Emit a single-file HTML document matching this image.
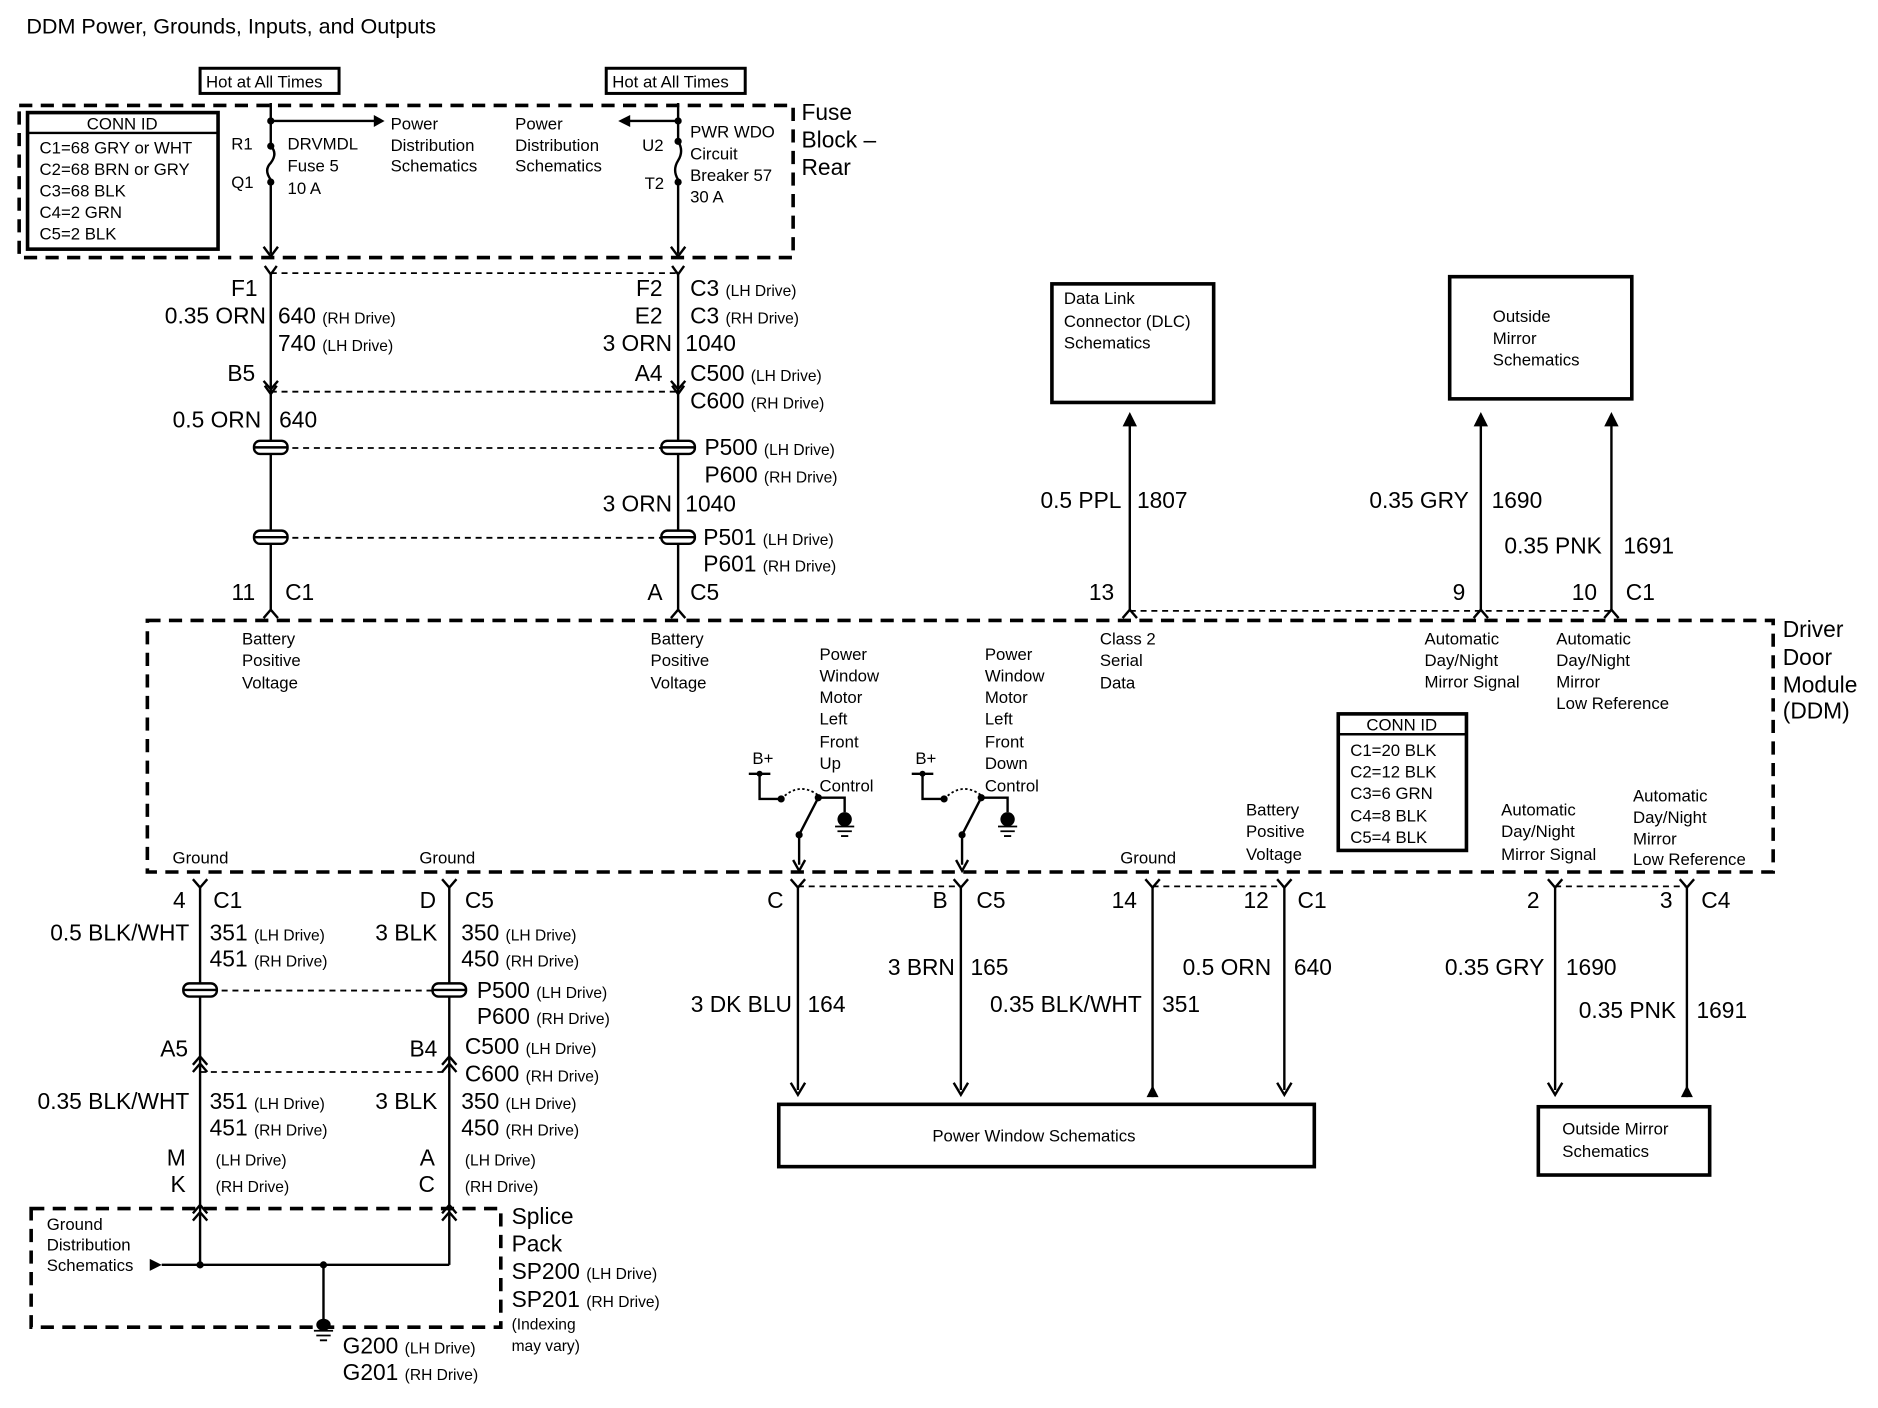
<!DOCTYPE html>
<html><head><meta charset="utf-8"><style>
html,body{margin:0;padding:0;background:#fff}
svg{display:block}
text{font-family:"Liberation Sans Narrow","Liberation Sans",sans-serif;fill:#000}
.s{font-size:14px}.m{font-size:19px}.r{text-anchor:end}.t{font-size:13px}
.w{stroke:#000;stroke-width:2;fill:none}
.d{stroke:#000;stroke-width:1.5;fill:none;stroke-dasharray:5 4}
.b{stroke:#000;stroke-width:3;fill:none;stroke-dasharray:11 7}
.bx{stroke:#000;stroke-width:3;fill:#fff}
</style></head><body>
<svg width="1878" height="1408" viewBox="0 0 1567.5 1175.5" preserveAspectRatio="none" xmlns="http://www.w3.org/2000/svg">
<text x="22" y="28" style="font-size:18px">DDM Power, Grounds, Inputs, and Outputs</text>

<rect x="167" y="57" width="116" height="21" class="bx" style="stroke-width:2.5"/><text x="172" y="73" class="s">Hot at All Times</text>
<rect x="506" y="57" width="116" height="21" class="bx" style="stroke-width:2.5"/><text x="511" y="73" class="s">Hot at All Times</text>

<rect x="16" y="88" width="646" height="127" class="b"/>
<text x="669" y="100" class="m">Fuse</text><text x="669" y="123" class="m">Block –</text><text x="669" y="146" class="m">Rear</text>
<rect x="23" y="94" width="159" height="114" class="bx"/><line x1="23" y1="111" x2="182" y2="111" class="w"/>
<text x="102" y="108" class="s" text-anchor="middle">CONN ID</text>
<text x="33" y="128" class="s">C1=68 GRY or WHT</text><text x="33" y="146" class="s">C2=68 BRN or GRY</text><text x="33" y="164" class="s">C3=68 BLK</text><text x="33" y="182" class="s">C4=2 GRN</text><text x="33" y="200" class="s">C5=2 BLK</text>

<path d="M226 86V122 M226 150V212" class="w"/>
<path d="M226 122 q6 6 0 14 q-6 6 0 14" class="w"/>
<circle cx="226" cy="101" r="3"/><circle cx="226" cy="122" r="3"/><circle cx="226" cy="152" r="3"/>
<path d="M226 101H314" class="w"/><path d="M312 96L321 101L312 106Z"/>
<path d="M220 206L226 214L232 206" class="w"/>
<text x="193" y="125" class="s">R1</text><text x="193" y="157" class="s">Q1</text>
<text x="240" y="125" class="s">DRVMDL</text><text x="240" y="143" class="s">Fuse 5</text><text x="240" y="162" class="s">10 A</text>
<text x="326" y="108" class="s">Power</text><text x="326" y="126" class="s">Distribution</text><text x="326" y="143" class="s">Schematics</text>
<path d="M566 86V118 M566 150V212" class="w"/>
<path d="M566 118 q5 8 0 16 q-5 8 0 16" class="w"/>
<circle cx="566" cy="101" r="3"/><circle cx="566" cy="118" r="3"/><circle cx="566" cy="152" r="3"/>
<path d="M566 101H524" class="w"/><path d="M526 96L516 101L526 106Z"/>
<path d="M560 206L566 214L572 206" class="w"/>
<text x="536" y="126" class="s">U2</text><text x="538" y="158" class="s">T2</text>
<text x="576" y="115" class="s">PWR WDO</text><text x="576" y="133" class="s">Circuit</text><text x="576" y="151" class="s">Breaker 57</text><text x="576" y="169" class="s">30 A</text>
<text x="430" y="108" class="s">Power</text><text x="430" y="126" class="s">Distribution</text><text x="430" y="143" class="s">Schematics</text>

<path d="M226 228V510 M566 228V510" class="w"/>
<path d="M221 222L226 229L231 222 M561 222L566 229L571 222" class="w"/>
<line x1="226" y1="228" x2="566" y2="228" class="d"/>
<path d="M220 318L226 325L232 318 M560 318L566 325L572 318" class="w"/>
<path d="M221 322L226 329L231 322 M561 322L566 329L571 322" class="w"/>
<line x1="226" y1="327" x2="566" y2="327" class="d"/>
<text x="215" y="247" class="m r">F1</text><text x="222" y="270" class="m r">0.35 ORN</text>
<text x="232" y="270" class="m">640 <tspan class="t">(RH Drive)</tspan></text><text x="232" y="293" class="m">740 <tspan class="t">(LH Drive)</tspan></text>
<text x="213" y="318" class="m r">B5</text>
<text x="553" y="247" class="m r">F2</text><text x="576" y="247" class="m">C3 <tspan class="t">(LH Drive)</tspan></text>
<text x="553" y="270" class="m r">E2</text><text x="576" y="270" class="m">C3 <tspan class="t">(RH Drive)</tspan></text>
<text x="561" y="293" class="m r">3 ORN</text><text x="572" y="293" class="m">1040</text>
<text x="553" y="318" class="m r">A4</text><text x="576" y="318" class="m">C500 <tspan class="t">(LH Drive)</tspan></text>
<text x="576" y="341" class="m">C600 <tspan class="t">(RH Drive)</tspan></text>
<text x="218" y="357" class="m r">0.5 ORN</text><text x="233" y="357" class="m">640</text>
<line x1="226" y1="374" x2="566" y2="374" class="d"/>
<line x1="226" y1="449" x2="566" y2="449" class="d"/>
<g class="w" style="fill:#fff">
<rect x="212" y="368" width="28" height="11" rx="5"/><rect x="552" y="368" width="28" height="11" rx="5"/>
<rect x="212" y="443" width="28" height="11" rx="5"/><rect x="552" y="443" width="28" height="11" rx="5"/>
</g>
<path d="M212 373.5H240 M552 373.5H580 M212 448.5H240 M552 448.5H580" class="w"/>
<text x="588" y="380" class="m">P500 <tspan class="t">(LH Drive)</tspan></text><text x="588" y="403" class="m">P600 <tspan class="t">(RH Drive)</tspan></text>
<text x="561" y="427" class="m r">3 ORN</text><text x="572" y="427" class="m">1040</text>
<text x="587" y="455" class="m">P501 <tspan class="t">(LH Drive)</tspan></text><text x="587" y="477" class="m">P601 <tspan class="t">(RH Drive)</tspan></text>
<text x="213" y="501" class="m r">11</text><text x="238" y="501" class="m">C1</text>
<text x="553" y="501" class="m r">A</text><text x="576" y="501" class="m">C5</text>
<path d="M220 516L226 509L232 516 M560 516L566 509L572 516" class="w"/>

<rect x="123" y="518" width="1357" height="210" class="b"/>
<text x="1488" y="532" class="m">Driver</text><text x="1488" y="555" class="m">Door</text><text x="1488" y="578" class="m">Module</text><text x="1488" y="600" class="m">(DDM)</text>
<text x="202" y="538" class="s">Battery</text><text x="202" y="556" class="s">Positive</text><text x="202" y="575" class="s">Voltage</text>
<text x="543" y="538" class="s">Battery</text><text x="543" y="556" class="s">Positive</text><text x="543" y="575" class="s">Voltage</text>
<g class="s"><text x="684" y="551">Power</text><text x="684" y="569">Window</text><text x="684" y="587">Motor</text><text x="684" y="605">Left</text><text x="684" y="624">Front</text><text x="684" y="642">Up</text><text x="684" y="661">Control</text>
<text x="822" y="551">Power</text><text x="822" y="569">Window</text><text x="822" y="587">Motor</text><text x="822" y="605">Left</text><text x="822" y="624">Front</text><text x="822" y="642">Down</text><text x="822" y="661">Control</text>
<text x="918" y="538">Class 2</text><text x="918" y="556">Serial</text><text x="918" y="575">Data</text>
<text x="1189" y="538">Automatic</text><text x="1189" y="556">Day/Night</text><text x="1189" y="574">Mirror Signal</text>
<text x="1299" y="538">Automatic</text><text x="1299" y="556">Day/Night</text><text x="1299" y="574">Mirror</text><text x="1299" y="592">Low Reference</text>
<text x="1040" y="681">Battery</text><text x="1040" y="699">Positive</text><text x="1040" y="718">Voltage</text>
<text x="1253" y="681">Automatic</text><text x="1253" y="699">Day/Night</text><text x="1253" y="718">Mirror Signal</text>
<text x="1363" y="669">Automatic</text><text x="1363" y="687">Day/Night</text><text x="1363" y="705">Mirror</text><text x="1363" y="722">Low Reference</text>
<text x="144" y="721">Ground</text><text x="350" y="721">Ground</text><text x="935" y="721">Ground</text></g>
<rect x="1117" y="596" width="107" height="114" class="bx"/><line x1="1117" y1="613" x2="1224" y2="613" class="w"/>
<text x="1170" y="610" class="s" text-anchor="middle">CONN ID</text>
<g class="s"><text x="1127" y="631">C1=20 BLK</text><text x="1127" y="649">C2=12 BLK</text><text x="1127" y="667">C3=6 GRN</text><text x="1127" y="686">C4=8 BLK</text><text x="1127" y="704">C5=4 BLK</text></g>

<g id="sw">
<text x="628" y="638" class="s">B+</text>
<path d="M625 646H643 M634 646V667H652" class="w"/>
<circle cx="634" cy="646" r="2.5"/><circle cx="652" cy="667" r="3"/><circle cx="683" cy="666" r="3"/><circle cx="667" cy="697" r="3"/>
<path d="M652 667 Q667 652 683 664" class="w" style="stroke-dasharray:2 2;stroke-width:1.5"/>
<path d="M683 666L667 697 M683 666H705V678 M667 697V722" class="w"/>
<ellipse cx="705" cy="684" rx="6" ry="6"/><path d="M697 690H713 M699 694H711 M702 698H708" class="w" style="stroke-width:1.5"/>
<path d="M662 718L667 727L672 718" class="w"/>
</g>
<use href="#sw" x="136"/>

<path d="M943 510V352 M1236 510V352 M1345 510V352" class="w"/>
<path d="M937 356L943 344L949 356Z M1230 356L1236 344L1242 356Z M1339 356L1345 344L1351 356Z"/>
<path d="M937 516L943 509L949 516 M1230 516L1236 509L1242 516 M1339 516L1345 509L1351 516" class="w"/>
<line x1="943" y1="510" x2="1345" y2="510" class="d"/>
<text x="930" y="501" class="m r">13</text><text x="1223" y="501" class="m r">9</text><text x="1333" y="501" class="m r">10</text><text x="1357" y="501" class="m">C1</text>
<text x="936" y="424" class="m r">0.5 PPL</text><text x="949" y="424" class="m">1807</text>
<text x="1226" y="424" class="m r">0.35 GRY</text><text x="1245" y="424" class="m">1690</text>
<text x="1337" y="462" class="m r">0.35 PNK</text><text x="1355" y="462" class="m">1691</text>
<rect x="878" y="237" width="135" height="99" class="bx"/>
<text x="888" y="254" class="s">Data Link</text><text x="888" y="273" class="s">Connector (DLC)</text><text x="888" y="291" class="s">Schematics</text>
<rect x="1210" y="231" width="152" height="102" class="bx"/>
<text x="1246" y="269" class="s">Outside</text><text x="1246" y="287" class="s">Mirror</text><text x="1246" y="305" class="s">Schematics</text>

<path d="M660 734L666 741L672 734 M796 734L802 741L808 734 M956 734L962 741L968 734 M1066 734L1072 741L1078 734 M1292 734L1298 741L1304 734 M1402 734L1408 741L1414 734" class="w"/>
<line x1="666" y1="740" x2="802" y2="740" class="d"/><line x1="962" y1="740" x2="1072" y2="740" class="d"/><line x1="1298" y1="740" x2="1408" y2="740" class="d"/>
<path d="M666 740V910 M802 740V910 M962 740V916 M1072 740V910 M1298 740V910 M1408 740V916" class="w"/>
<path d="M660 904L666 914L672 904 M796 904L802 914L808 904 M1066 904L1072 914L1078 904 M1292 904L1298 914L1304 904" class="w"/>
<path d="M957 916L962 906L967 916Z M1403 916L1408 906L1413 916Z"/>
<text x="654" y="758" class="m r">C</text><text x="791" y="758" class="m r">B</text><text x="815" y="758" class="m">C5</text>
<text x="949" y="758" class="m r">14</text><text x="1059" y="758" class="m r">12</text><text x="1083" y="758" class="m">C1</text>
<text x="1285" y="758" class="m r">2</text><text x="1396" y="758" class="m r">3</text><text x="1420" y="758" class="m">C4</text>
<text x="661" y="845" class="m r">3 DK BLU</text><text x="674" y="845" class="m">164</text>
<text x="797" y="814" class="m r">3 BRN</text><text x="810" y="814" class="m">165</text>
<text x="953" y="845" class="m r">0.35 BLK/WHT</text><text x="970" y="845" class="m">351</text>
<text x="1061" y="814" class="m r">0.5 ORN</text><text x="1080" y="814" class="m">640</text>
<text x="1289" y="814" class="m r">0.35 GRY</text><text x="1307" y="814" class="m">1690</text>
<text x="1399" y="850" class="m r">0.35 PNK</text><text x="1416" y="850" class="m">1691</text>
<rect x="650" y="922" width="447" height="52" class="bx"/><text x="863" y="953" class="s" text-anchor="middle">Power Window Schematics</text>
<rect x="1284" y="924" width="143" height="57" class="bx"/><text x="1304" y="947" class="s">Outside Mirror</text><text x="1304" y="966" class="s">Schematics</text>

<path d="M161 734L167 741L173 734 M369 734L375 741L381 734" class="w"/>
<path d="M167 740V1056 M375 740V1056" class="w"/>
<text x="155" y="758" class="m r">4</text><text x="178" y="758" class="m">C1</text>
<text x="364" y="758" class="m r">D</text><text x="388" y="758" class="m">C5</text>
<text x="158" y="785" class="m r">0.5 BLK/WHT</text><text x="175" y="785" class="m">351 <tspan class="t">(LH Drive)</tspan></text><text x="175" y="807" class="m">451 <tspan class="t">(RH Drive)</tspan></text>
<text x="365" y="785" class="m r">3 BLK</text><text x="385" y="785" class="m">350 <tspan class="t">(LH Drive)</tspan></text><text x="385" y="807" class="m">450 <tspan class="t">(RH Drive)</tspan></text>
<line x1="167" y1="827" x2="375" y2="827" class="d"/>
<g class="w" style="fill:#fff"><rect x="153" y="821" width="28" height="11" rx="5"/><rect x="361" y="821" width="28" height="11" rx="5"/></g>
<path d="M153 826.5H181 M361 826.5H389" class="w"/>
<text x="398" y="833" class="m">P500 <tspan class="t">(LH Drive)</tspan></text><text x="398" y="855" class="m">P600 <tspan class="t">(RH Drive)</tspan></text>
<path d="M161 889L167 882L173 889 M369 889L375 882L381 889 M161 895L167 888L173 895 M369 895L375 888L381 895" class="w"/>
<line x1="167" y1="895" x2="375" y2="895" class="d"/>
<text x="157" y="882" class="m r">A5</text><text x="365" y="882" class="m r">B4</text>
<text x="388" y="880" class="m">C500 <tspan class="t">(LH Drive)</tspan></text><text x="388" y="903" class="m">C600 <tspan class="t">(RH Drive)</tspan></text>
<text x="158" y="926" class="m r">0.35 BLK/WHT</text><text x="175" y="926" class="m">351 <tspan class="t">(LH Drive)</tspan></text><text x="175" y="948" class="m">451 <tspan class="t">(RH Drive)</tspan></text>
<text x="365" y="926" class="m r">3 BLK</text><text x="385" y="926" class="m">350 <tspan class="t">(LH Drive)</tspan></text><text x="385" y="948" class="m">450 <tspan class="t">(RH Drive)</tspan></text>
<text x="155" y="973" class="m r">M</text><text x="155" y="995" class="m r">K</text><text x="180" y="973" class="t">(LH Drive)</text><text x="180" y="995" class="t">(RH Drive)</text>
<text x="363" y="973" class="m r">A</text><text x="363" y="995" class="m r">C</text><text x="388" y="973" class="t">(LH Drive)</text><text x="388" y="995" class="t">(RH Drive)</text>
<path d="M161 1013L167 1006L173 1013 M369 1013L375 1006L381 1013 M161 1019L167 1012L173 1019 M369 1019L375 1012L381 1019" class="w"/>
<rect x="26" y="1009" width="392" height="99" class="b"/>
<text x="39" y="1027" class="s">Ground</text><text x="39" y="1044" class="s">Distribution</text><text x="39" y="1061" class="s">Schematics</text>
<path d="M125 1051L135 1056L125 1061Z"/>
<path d="M135 1056H375 M270 1056V1102" class="w"/>
<circle cx="167" cy="1056" r="3"/><circle cx="270" cy="1056" r="3"/>
<ellipse cx="270" cy="1106" rx="6" ry="5"/><path d="M262 1111H278 M264 1115H276 M267 1119H273" class="w" style="stroke-width:1.5"/>
<text x="427" y="1022" class="m">Splice</text><text x="427" y="1045" class="m">Pack</text>
<text x="427" y="1068" class="m">SP200 <tspan class="t">(LH Drive)</tspan></text><text x="427" y="1091" class="m">SP201 <tspan class="t">(RH Drive)</tspan></text>
<text x="427" y="1110" class="t">(Indexing</text><text x="427" y="1128" class="t">may vary)</text>
<text x="286" y="1130" class="m">G200 <tspan class="t">(LH Drive)</tspan></text><text x="286" y="1152" class="m">G201 <tspan class="t">(RH Drive)</tspan></text>
</svg>
</body></html>
